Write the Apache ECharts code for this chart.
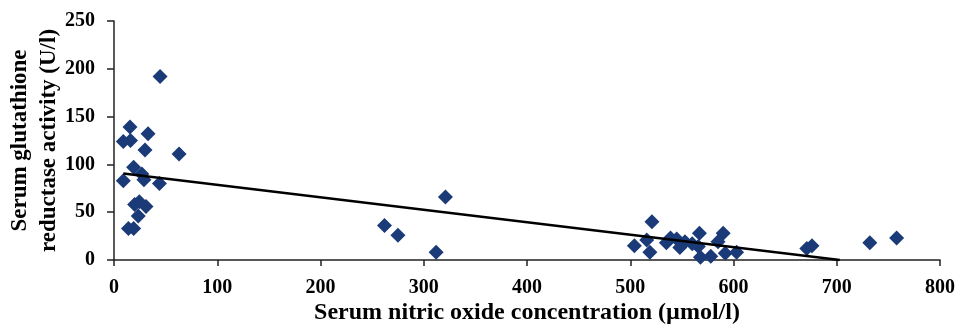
<!DOCTYPE html>
<html>
<head>
<meta charset="utf-8">
<script src="https://cdn.jsdelivr.net/npm/echarts@6/dist/echarts.min.js"></script>
<style>html,body{margin:0;padding:0;background:#fff}#c{width:959px;height:329px}</style>
</head>
<body>
<div id="c"></div>
<script>
// Serum nitric oxide concentration (µmol/l)
const nitricOxide = [44.6, 15.5, 33, 9, 16, 30, 63, 19, 27, 9, 29, 44, 20, 24.5, 31, 23.5, 14, 19,
  262, 275, 312, 321,
  521, 504, 516, 519, 539, 535, 545, 548, 553, 560, 567, 566, 568, 578, 590, 585, 592, 603,
  671, 676, 732, 758];
// Serum glutathione reductase activity (U/l)
const glutathioneReductase = [192, 139, 132, 124, 125, 115, 111, 97, 90, 83, 84, 80, 58, 61, 56, 46, 33, 33,
  36, 26, 8, 66,
  40, 15, 21, 8, 23, 18, 22, 13, 19, 17, 28, 14, 3, 4, 28, 19, 7, 8,
  12, 15, 18, 23];
// Linear trend line end points [x, y]
const trendX = [9, 703];
const trendY = [90.5, 0];
const xTicks = [0, 100, 200, 300, 400, 500, 600, 700, 800];
const yTicks = [0, 50, 100, 150, 200, 250];

const points = nitricOxide.map((x, i) => [x, glutathioneReductase[i]]);
const trend = trendX.map((x, i) => [x, trendY[i]]);

const font = 'Liberation Serif';
const chart = echarts.init(document.getElementById('c'), null, {renderer: 'canvas'});
chart.setOption({
  animation: false,
  backgroundColor: '#fff',
  grid: {left: 114, right: 19, top: 21, bottom: 69, containLabel: false, outerBoundsMode: 'none'},
  xAxis: {
    type: 'value', min: xTicks[0], max: xTicks[xTicks.length - 1], interval: 100,
    name: 'Serum nitric oxide concentration (µmol/l)',
    nameLocation: 'middle', nameGap: 41, nameMoveOverlap: false,
    nameTextStyle: {fontFamily: font, fontWeight: 'bold', fontSize: 24, color: '#000'},
    axisLine: {lineStyle: {color: '#222', width: 1.5}},
    axisTick: {show: true, length: 6, lineStyle: {color: '#222', width: 1.5}},
    axisLabel: {fontFamily: font, fontWeight: 'bold', fontSize: 20, color: '#000', margin: 18},
    splitLine: {show: false}
  },
  yAxis: {
    type: 'value', min: yTicks[0], max: yTicks[yTicks.length - 1], interval: 50,
    name: 'Serum glutathione\nreductase activity (U/l)',
    nameLocation: 'middle', nameGap: 50, nameMoveOverlap: false,
    nameTextStyle: {fontFamily: font, fontWeight: 'bold', fontSize: 23, color: '#000', lineHeight: 29},
    axisLine: {show: true, lineStyle: {color: '#222', width: 1.5}},
    axisTick: {show: true, length: 7, lineStyle: {color: '#222', width: 1.5}},
    axisLabel: {fontFamily: font, fontWeight: 'bold', fontSize: 20, color: '#000', margin: 19},
    splitLine: {show: false}
  },
  series: [
    {
      type: 'line', data: trend, symbol: 'none', z: 3,
      lineStyle: {color: '#000', width: 2.5}
    },
    {
      type: 'scatter', data: points, symbol: 'diamond', symbolSize: [15, 15], z: 2,
      itemStyle: {color: '#1a3a78', opacity: 1}
    }
  ]
});
</script>
</body>
</html>
